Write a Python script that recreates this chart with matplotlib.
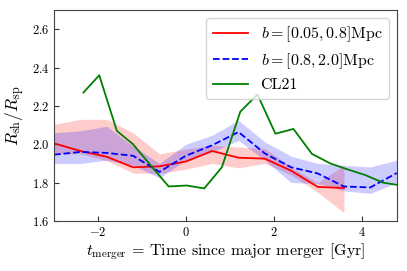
import matplotlib
matplotlib.use("Agg")
from matplotlib import pyplot as plt

plt.rcParams['font.family'] = 'serif'
plt.rcParams['font.serif'] = ['cmr10']
plt.rcParams['mathtext.fontset'] = 'cm'
plt.rcParams['axes.formatter.use_mathtext'] = True

# impact parameter b = [0.05, 0.8] Mpc
tRed = [-3.0, -2.4, -1.8, -1.2, -0.6, 0.0, 0.6, 1.2, 1.8, 2.4, 3.0, 3.6]
redMed = [2.005, 1.965, 1.935, 1.88, 1.885, 1.91, 1.965, 1.93, 1.925, 1.862, 1.778, 1.772]
redLow = [1.95, 1.95, 1.915, 1.85, 1.848, 1.87, 1.90, 1.877, 1.90, 1.84, 1.75, 1.643]
redHigh = [2.104, 2.13, 2.13, 2.06, 1.95, 1.975, 1.995, 1.986, 1.978, 1.88, 1.80, 1.89]

# b = [0.8, 2.0] Mpc
tBlue = [-3.0, -2.4, -1.8, -1.2, -0.6, 0.0, 0.6, 1.2, 1.8, 2.4, 3.0, 3.6, 4.2, 4.8]
blueMed = [1.946, 1.96, 1.955, 1.94, 1.856, 1.94, 1.995, 2.064, 1.952, 1.88, 1.848, 1.78, 1.775, 1.85]
blueLow = [1.90, 1.90, 1.917, 1.89, 1.825, 1.917, 1.96, 2.02, 1.917, 1.80, 1.796, 1.757, 1.744, 1.80]
blueHigh = [2.06, 2.07, 2.094, 1.99, 1.90, 2.0, 2.047, 2.125, 2.012, 1.938, 1.90, 1.89, 1.882, 1.917]

# CL21
tCL = [-2.33, -1.97, -1.57, -1.2, -0.8, -0.39, 0.02, 0.42, 0.82, 1.24, 1.63, 2.04, 2.45, 2.87, 3.29, 3.67, 4.08, 4.49, 4.9]
cl21 = [2.27, 2.36, 2.07, 2.0, 1.89, 1.78, 1.785, 1.77, 1.88, 2.17, 2.26, 2.055, 2.08, 1.95, 1.90, 1.87, 1.84, 1.80, 1.785]

fig = plt.figure(figsize=(4.07, 2.71), dpi=100)
ax = fig.add_axes([0.1327, 0.1845, 0.842, 0.7785])

ax.fill_between(tRed, redLow, redHigh, color='red', alpha=0.2, lw=0)
ax.fill_between(tBlue, blueLow, blueHigh, color='blue', alpha=0.2, lw=0)
ax.plot(tRed, redMed, color='red', lw=1.3, label=r'$b=[0.05,0.8]{\rm Mpc}$')
ax.plot(tBlue, blueMed, color='blue', lw=1.3, ls='--', label=r'$b=[0.8,2.0]{\rm Mpc}$')
ax.plot(tCL, cl21, color='green', lw=1.3, label='CL21')

ax.set_xlim(-3, 4.8)
ax.set_ylim(1.6, 2.7)
ax.set_xticks([-2, 0, 2, 4])
ax.set_yticks([1.6, 1.8, 2.0, 2.2, 2.4, 2.6])
ax.tick_params(direction='in', labelsize=9, length=3.5, color='#333333')
for s in ax.spines.values():
    s.set_color('#444444')

ax.set_xlabel(r'$t_{\rm merger}$ = Time since major merger [Gyr]', fontsize=11.5, labelpad=2)
ax.set_ylabel(r'$R_{\rm sh}/R_{\rm sp}$', fontsize=12.5, labelpad=3)
ax.legend(loc='upper right', fontsize=11.5, handlelength=2.2, labelspacing=0.45)

fig.savefig('out.png', dpi=100)
